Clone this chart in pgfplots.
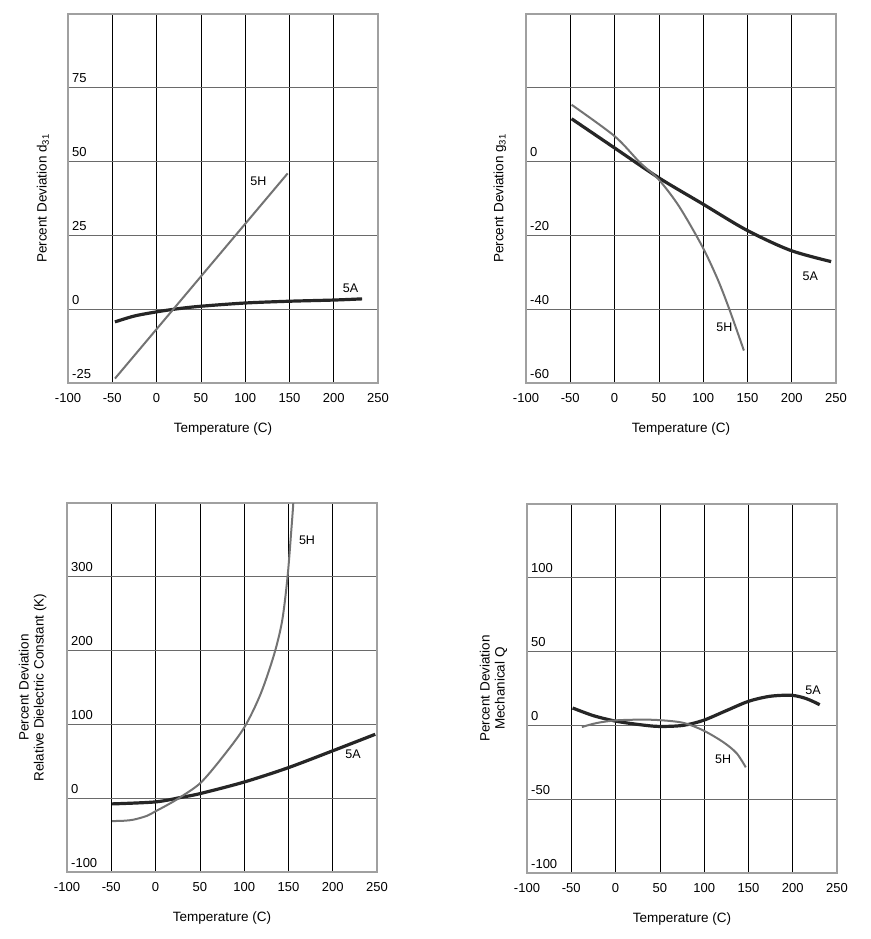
\documentclass[border=0pt]{standalone}
\usepackage{fontspec}
\setmainfont{Liberation Sans}
\usepackage{pgfplots}
\pgfplotsset{compat=1.18}

\definecolor{framegray}{HTML}{A0A0A0}
\definecolor{hgrid}{HTML}{6A6A6A}
\definecolor{curveA}{HTML}{262626}
\definecolor{curveH}{HTML}{737373}

\tikzset{tag/.style={font=\fontsize{12.5}{14}\selectfont}}

\pgfplotsset{
  panel/.style={
    scale only axis, width=310pt, height=369pt, anchor=north west,
    xmin=-100, xmax=250, xtick={-100,-50,...,250},
    xticklabels={-100,-50,0,50,100,150,200,250},
    axis line style={framegray, line width=2.5pt},
    major tick length=0pt,
    grid=major,
    x grid style={black, line width=0.6pt},
    y grid style={hgrid, line width=1.1pt},
    tick label style={font=\fontsize{13}{15}\selectfont},
    xticklabel style={anchor=center, yshift=-15pt},
    yticklabel style={anchor=base west, inner sep=0pt, xshift=4pt, yshift=5pt},
    xlabel={Temperature (C)},
    every axis x label/.style={at={(axis description cs:0.5,0)}, anchor=center, yshift=-46pt,
      font=\fontsize{13.5}{15}\selectfont},
    every axis y label/.style={at={(axis description cs:-0.081,0.5)}, rotate=90, anchor=center, align=center,
      font=\fontsize{13.5}{15}\selectfont},
  },
  lineA/.style={curveA, line width=3.2pt, smooth},
  lineH/.style={curveH, line width=2pt, smooth},
}

\begin{document}
\begin{tikzpicture}
\useasboundingbox (0,0) rectangle (870pt,-939pt);

% d31
\begin{axis}[panel, at={(68pt,-14pt)},
  ymin=-25, ymax=100, ytick={-25,0,...,100},
  yticklabels={-25,0,25,50,75,},
  ylabel={Percent Deviation d\textsubscript{31}}]
\addplot[lineA] coordinates {(-47,-4.3) (-25,-2.3) (0,-0.9) (25,0.2) (50,1.0) (100,2.1) (150,2.7) (200,3.1) (232,3.5)};
\addplot[curveH, line width=2pt] coordinates {(-47,-23.5) (148,46)};
\node[tag] at (axis cs:115,43.5) {5H};
\node[tag] at (axis cs:219,7) {5A};
\end{axis}

% g31
\begin{axis}[panel, at={(526pt,-14pt)},
  ymin=-60, ymax=40, ytick={-60,-40,...,40},
  yticklabels={-60,-40,-20,0,,},
  ylabel={Percent Deviation g\textsubscript{31}},
  every axis y label/.append style={at={(axis description cs:-0.084,0.5)}}]
\addplot[lineA] coordinates {(-48.5,11.6) (0,3.7) (50,-4.4) (99,-11.4) (148.6,-18.5) (198,-24) (244.5,-27.1)};
\addplot[lineH] coordinates {(-48.5,15.4) (0,6.9) (28.4,-0.2) (50,-4.9) (73,-12.2) (99,-23) (116.6,-32) (130,-40.3) (146,-51.2)};
\node[tag] at (axis cs:124,-45) {5H};
\node[tag] at (axis cs:221,-31) {5A};
\end{axis}

% dielectric constant
\begin{axis}[panel, at={(67pt,-503pt)},
  ymin=-100, ymax=400, ytick={-100,0,...,400},
  yticklabels={-100,0,100,200,300,},
  ylabel={Percent Deviation\\Relative Dielectric Constant (K)},
  every axis y label/.append style={at={(axis description cs:-0.111,0.5)}}]
\addplot[lineA] coordinates {(-49,-7.7) (0,-5) (30,1.4) (50.8,6.4) (99.7,21.8) (149,41) (199.5,64) (248,86.6)};
\addplot[lineH] coordinates {(-49,-31) (-35,-30.5) (-24.5,-29) (-10,-24) (0,-17.7) (15,-8) (28,1.4) (50.8,20.8) (75,54.8) (100,95.6) (118.5,141) (134,195.5) (143,241) (149,300) (153,359) (155.5,400) (156,420)};
\node[tag] at (axis cs:171,350) {5H};
\node[tag] at (axis cs:223,59) {5A};
\end{axis}

% mechanical Q
\begin{axis}[panel, at={(527pt,-504pt)},
  ymin=-100, ymax=150, ytick={-100,-50,...,150},
  yticklabels={-100,-50,0,50,100,},
  ylabel={Percent Deviation\\Mechanical Q},
  every axis y label/.append style={at={(axis description cs:-0.108,0.5)}}]
\addplot[lineA] coordinates {(-48.5,11.8) (-25,6.6) (0,2.9) (27.4,0.5) (49,-0.7) (76,0) (99,3.4) (125,10) (150,16.3) (174,19.7) (198.6,20.4) (215.6,18.1) (230.5,14)};
\addplot[lineH] coordinates {(-38,-1.1) (-21.5,1.6) (0,3.4) (27.4,3.9) (49,3.6) (76,1.8) (99,-3.4) (121.5,-11.3) (136.6,-18.8) (147,-28.4)};
\node[tag] at (axis cs:121.5,-23) {5H};
\node[tag] at (axis cs:223,24) {5A};
\end{axis}
\end{tikzpicture}
\end{document}
